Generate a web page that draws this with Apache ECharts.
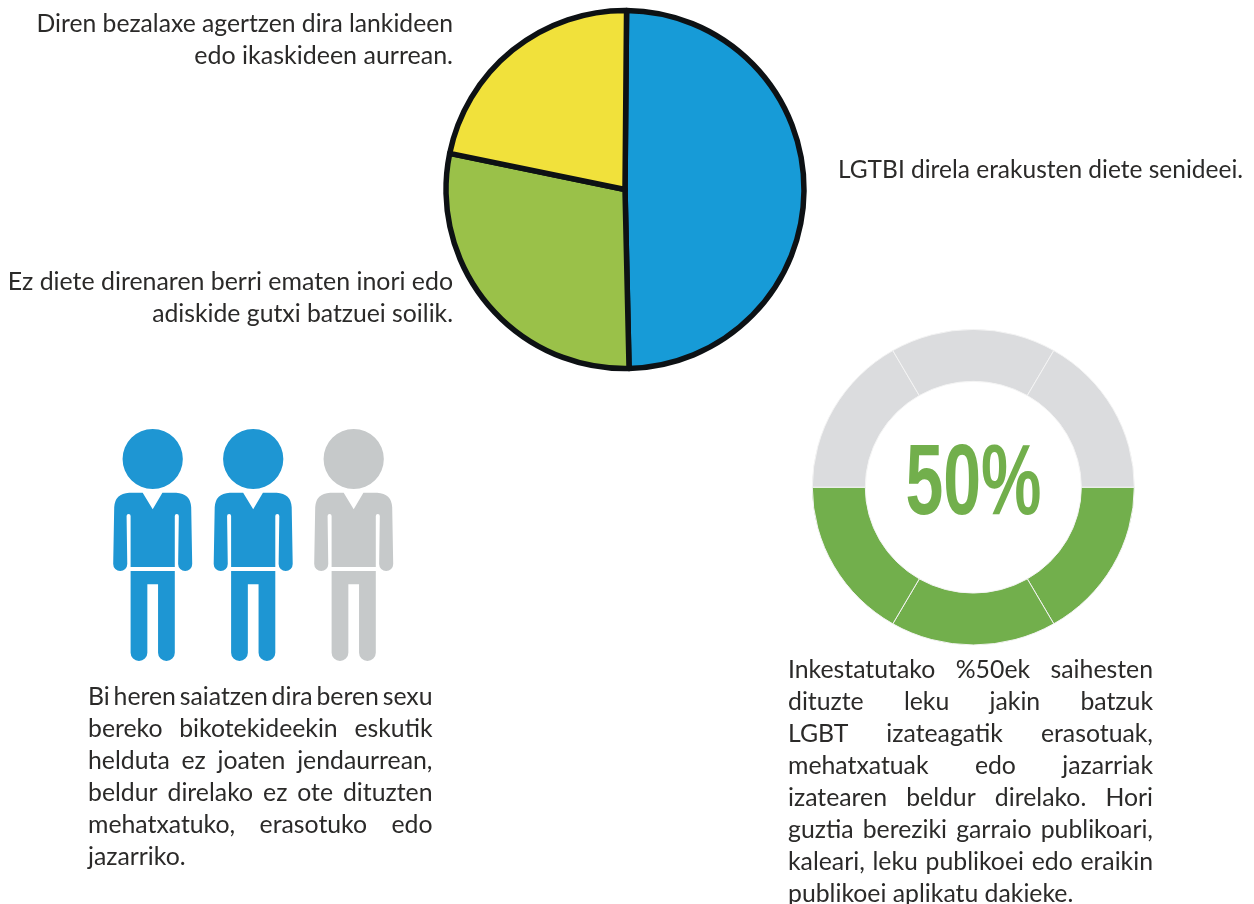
<!DOCTYPE html>
<html>
<head>
<meta charset="utf-8">
<title>LGTBI</title>
<script src="https://cdn.jsdelivr.net/npm/echarts@6/dist/echarts.min.js"></script>
<style>
html, body { margin: 0; padding: 0; background: #fff; }
#main { width: 1254px; height: 904px; }
</style>
</head>
<body>
<div id="main"></div>
<script>
// tarta nagusia
const pieLabels = ["LGTBI direla erakusten diete senideei.", "Ez diete direnaren berri ematen inori edo adiskide gutxi batzuei soilik.", "Diren bezalaxe agertzen dira lankideen edo ikaskideen aurrean."];
const pieValues = [49.5, 28.6, 21.9];
const pieColors = ["#179bd7", "#9ac149", "#f1e13b"];

// pertsonak: 3tik 2
const people = ["1", "2", "3"];
const peopleAvoid = [1, 1, 0];

// eraztuna: 6 zatitik 3
const ringSegments = [1, 1, 1, 1, 1, 1];
const ringFilled = [1, 1, 1, 0, 0, 0];
const ringCenterText = "50%";

// testuak
const pieTextTop = ["Diren bezalaxe agertzen dira lankideen", "edo ikaskideen aurrean."];
const pieTextLeft = ["Ez diete direnaren berri ematen inori edo", "adiskide gutxi batzuei soilik."];
const pieTextRight = "LGTBI direla erakusten diete senideei.";
const peopleText = [
  "Bi heren saiatzen dira beren sexu",
  "bereko bikotekideekin eskutik",
  "helduta ez joaten jendaurrean,",
  "beldur direlako ez ote dituzten",
  "mehatxatuko, erasotuko edo",
  "jazarriko."
];
const ringText = [
  "Inkestatutako %50ek saihesten",
  "dituzte leku jakin batzuk",
  "LGBT izateagatik erasotuak,",
  "mehatxatuak edo jazarriak",
  "izatearen beldur direlako. Hori",
  "guztia bereziki garraio publikoari,",
  "kaleari, leku publikoei edo eraikin",
  "publikoei aplikatu dakieke."
];

const FONT = "Lato";
const FONT_SIZE = 24.8;
const TEXT_COLOR = "#2b2a29";
const LINE_H = 32;

const personPath = "path://M68 117A90 90 0 1 1 248 117A90 90 0 1 1 68 117Z" +
  "M128 218L158 268L187 218L228 218Q271 220 273 262L276 432A21 21 0 0 1 234 432L236 288Q236 282 230 282Q224 282 224 288L224 441L92 441L92 288Q92 282 86 282Q80 282 80 288L82 432A21 21 0 0 1 40 432L43 262Q45 220 88 218Z" +
  "M92 453L224 453L224 698A25 25 0 0 1 174 698L174 493L142 493L142 698A25 25 0 0 1 92 698Z";

const measure = document.createElement("canvas").getContext("2d");
measure.font = FONT_SIZE + "px " + FONT;

function textEl(text, x, y, align, size) {
  return {
    type: "text",
    x: x,
    y: y,
    style: {
      text: text,
      fill: TEXT_COLOR,
      font: (size || FONT_SIZE) + "px " + FONT,
      textAlign: align || "left",
      textVerticalAlign: "middle"
    }
  };
}

// lerro bakoitza justifikatu, azkena izan ezik
function justified(lines, left, right, top) {
  const out = [];
  lines.forEach((line, i) => {
    const y = top + i * LINE_H;
    if (i === lines.length - 1) {
      out.push(textEl(line, left, y));
      return;
    }
    const words = line.split(" ");
    const widths = words.map((w) => measure.measureText(w).width);
    const gap = (right - left - widths.reduce((a, b) => a + b, 0)) / (words.length - 1);
    let x = left;
    words.forEach((w, j) => {
      out.push(textEl(w, x, y));
      x += widths[j] + gap;
    });
  });
  return out;
}

const graphics = [
  textEl(pieTextTop[0], 453, 24, "right", 24.7),
  textEl(pieTextTop[1], 453, 55.5, "right", 25),
  textEl(pieTextLeft[0], 453, 282, "right", 24.9),
  textEl(pieTextLeft[1], 453, 314, "right", 24.75),
  textEl(pieTextRight, 838, 170.5, "left", 24.5),
  {
    type: "text",
    x: 973.5,
    y: 486.5,
    scaleX: 0.68,
    style: {
      text: ringCenterText,
      fill: "#72af4c",
      font: "bold 100px 'Liberation Sans'",
      textAlign: "center",
      textVerticalAlign: "middle"
    }
  }
].concat(justified(peopleText, 88, 432.5, 697), justified(ringText, 788, 1153, 670));

function ringItem(params) {
  const total = ringSegments.reduce((a, b) => a + b, 0);
  const before = ringSegments.slice(0, params.dataIndex).reduce((a, b) => a + b, 0);
  const i = params.dataIndex;
  return {
    type: "sector",
    x: 973.3,
    y: 487.2,
    scaleY: 0.98,
    shape: {
      cx: 0,
      cy: 0,
      r0: 108,
      r: 161,
      startAngle: (before / total) * Math.PI * 2,
      endAngle: ((before + ringSegments[i]) / total) * Math.PI * 2,
      clockwise: true
    },
    style: {
      fill: ringFilled[i] ? "#72af4c" : "#dbdcde",
      stroke: "#f4f4f4",
      lineWidth: 1
    }
  };
}

const myChart = echarts.init(document.getElementById("main"), null, { renderer: "canvas" });

const option = {
  animation: false,
  backgroundColor: "#fff",
  grid: { left: 102.45, width: 301.5, top: 429, height: 232 },
  xAxis: { type: "category", data: people, show: false },
  yAxis: { type: "category", data: ["pertsonak"], show: false },
  graphic: { elements: graphics },
  series: [
    {
      type: "pie",
      center: [625, 189.5],
      radius: [0, 179],
      startAngle: 89.5,
      label: { show: false },
      labelLine: { show: false },
      silent: true,
      itemStyle: { borderColor: "#0d1114", borderWidth: 5.5 },
      data: pieValues.map((v, i) => ({
        name: pieLabels[i],
        value: v,
        itemStyle: { color: pieColors[i] }
      }))
    },
    {
      type: "custom",
      coordinateSystem: "none",
      silent: true,
      renderItem: ringItem,
      data: ringSegments
    },
    {
      type: "scatter",
      symbol: personPath,
      symbolSize: [79, 232],
      silent: true,
      data: people.map((p, i) => ({
        value: [i, 0],
        itemStyle: { color: peopleAvoid[i] ? "#1e96d3" : "#c6c9ca", opacity: 1 }
      }))
    }
  ]
};
myChart.setOption(option);
</script>
</body>
</html>
